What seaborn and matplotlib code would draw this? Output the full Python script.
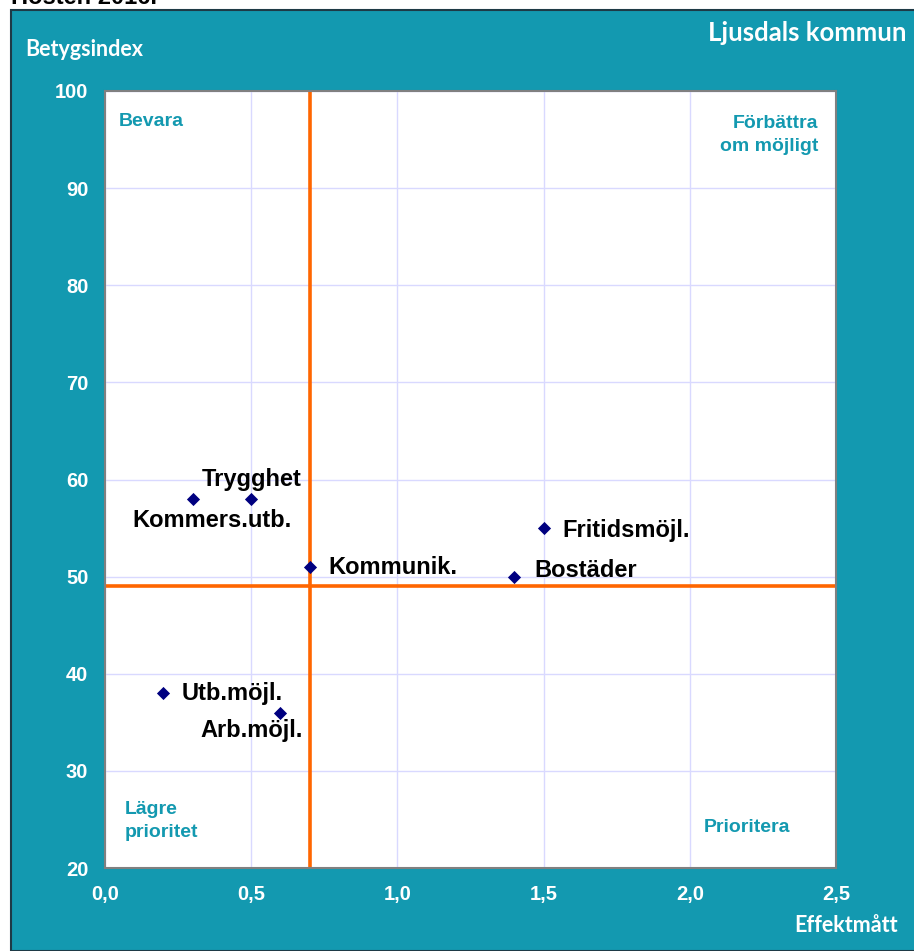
"""Betygsindex vs effektmått, Ljusdals kommun (hösten 2016)."""
import matplotlib.pyplot as plt
import pandas as pd
import seaborn as sns
from matplotlib.patches import Rectangle

# --- data ---
labels = ["Trygghet", "Kommers.utb.", "Kommunik.", "Fritidsmöjl.",
          "Bostäder", "Utb.möjl.", "Arb.möjl."]
effekt = [0.5, 0.3, 0.7, 1.5, 1.4, 0.2, 0.6]
betyg = [58, 58, 51, 55, 50, 38, 36]
x_split = 0.7
y_split = 49
x_ticks = [0.0, 0.5, 1.0, 1.5, 2.0, 2.5]
y_ticks = [20, 30, 40, 50, 60, 70, 80, 90, 100]

df = pd.DataFrame({"Effektmått": effekt, "Betygsindex": betyg, "Område": labels})

TEAL = "#1399B0"

sns.set_style("white")
plt.rcParams["font.family"] = ["Liberation Sans", "DejaVu Sans"]

fig = plt.figure(figsize=(9.14, 9.51), dpi=100, facecolor="white")
fig.patches.append(Rectangle((11 / 914, 0), 1.0, 1 - 10 / 951, transform=fig.transFigure,
                             facecolor=TEAL, edgecolor="#1E3A46", linewidth=1.5, zorder=-1))
fig.text(11 / 914, 1 - 4 / 951, "Hösten 2016.", fontsize=17, fontweight="bold",
         color="black", va="baseline", ha="left")

ax = fig.add_axes([105 / 914, 83 / 951, 731 / 914, 777 / 951])
ax.set_zorder(2)
ax.set_facecolor("white")

ax.grid(True, color="#D9D9FF", linewidth=1.0, zorder=0)
ax.axvline(x_split, color="#FF6600", linewidth=2.6, zorder=2)
ax.axhline(y_split, color="#FF6600", linewidth=2.6, zorder=2)

sns.scatterplot(data=df, x="Effektmått", y="Betygsindex", marker="D", s=45,
                color="#000080", edgecolor="#000080", linewidth=0, ax=ax, zorder=3)

# label placement (pixels relative to point)
offsets = {
    "Trygghet": ((0, 19), "center"),
    "Kommers.utb.": ((19, -22), "center"),
    "Kommunik.": ((19, -1), "left"),
    "Fritidsmöjl.": ((19, -2), "left"),
    "Bostäder": ((20, 6), "left"),
    "Utb.möjl.": ((18, 0), "left"),
    "Arb.möjl.": ((-29, -18), "center"),
}
for _, row in df.iterrows():
    off, ha = offsets[row["Område"]]
    ax.annotate(row["Område"], (row["Effektmått"], row["Betygsindex"]), xytext=off,
                textcoords="offset pixels", ha=ha, va="center", fontsize=17,
                fontweight="bold", color="black", zorder=4)

ax.set_xlim(0, 2.5)
ax.set_ylim(20, 100)
ax.set_xticks(x_ticks)
ax.set_yticks(y_ticks)
ax.set_xticklabels([f"{t:.1f}".replace(".", ",") for t in x_ticks])
ax.set_yticklabels([str(t) for t in y_ticks])
ax.tick_params(axis="both", direction="in", length=5, color="#808080", width=1,
               labelsize=14.5, labelcolor="white", pad=12)
for lab in ax.get_xticklabels() + ax.get_yticklabels():
    lab.set_fontweight("bold")
for sp in ax.spines.values():
    sp.set_color("#808080")
    sp.set_linewidth(1.5)
ax.set_xlabel("")
ax.set_ylabel("")

# quadrant names
qkw = dict(transform=ax.transAxes, color=TEAL, fontsize=14, fontweight="bold",
           linespacing=1.4)
ax.text(14 / 731, 1 - 31 / 777, "Bevara", ha="left", va="center", **qkw)
ax.text(1 - 18 / 731, 1 - 44 / 777, "Förbättra\nom möjligt", ha="right", va="center", **qkw)
ax.text(20 / 731, 1 - 730 / 777, "Lägre\nprioritet", ha="left", va="center", **qkw)
ax.text(1 - 46 / 731, 1 - 736 / 777, "Prioritera", ha="right", va="center", **qkw)

# axis titles in the teal frame
tkw = dict(color="white", fontweight="bold", family=["Lato", "DejaVu Sans"])
fig.text(25 / 914, 1 - 50 / 951, "Betygsindex", ha="left", va="center", fontsize=15.5, **tkw)
fig.text(907 / 914, 1 - 33 / 951, "Ljusdals kommun", ha="right", va="center", fontsize=18.5, **tkw)
fig.text(898 / 914, 1 - 926 / 951, "Effektmått", ha="right", va="center", fontsize=15.5, **tkw)

fig.savefig("out.png", dpi=100, facecolor=fig.get_facecolor())
